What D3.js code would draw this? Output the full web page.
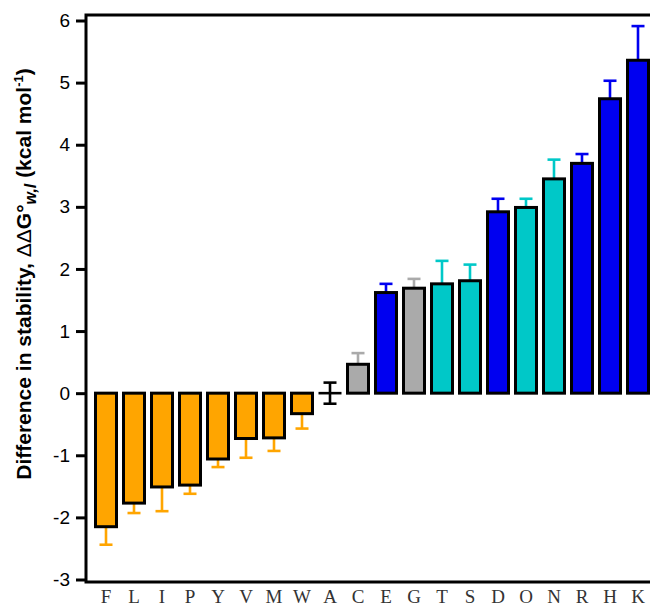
<!DOCTYPE html>
<html lang="en">
<head>
<meta charset="UTF-8">
<title>Difference in stability</title>
<script src="https://cdn.jsdelivr.net/npm/d3@7"></script>
<style>
  body { margin: 0; background: #fff; }
  svg { display: block; }
</style>
</head>
<body>
<div id="chart"></div>
<script>
// residue order, free energy differences and errors (kcal/mol)
const residues = ['F','L','I','P','Y','V','M','W','A','C','E','G','T','S','D','O','N','R','H','K'];
const ddG      = [-2.15,-1.77,-1.51,-1.48,-1.06,-0.73,-0.72,-0.33,0,0.465,1.62,1.69,1.76,1.81,2.92,2.99,3.45,3.70,4.74,5.36];
const errs     = [0.29,0.16,0.39,0.14,0.13,0.31,0.21,0.24,0.17,0.18,0.14,0.15,0.37,0.26,0.21,0.14,0.31,0.15,0.29,0.55];
const groups   = ['hyd','hyd','hyd','hyd','hyd','hyd','hyd','hyd','ref','small','charged','small','polar','polar','charged','polar','polar','charged','charged','charged'];
const yTicks   = [-3,-2,-1,0,1,2,3,4,5,6];

const width = 650, height = 606;
const axisX = 86, frameTop = 15, frameBottom = 582;

const fillColor = d3.scaleOrdinal()
    .domain(['hyd','ref','small','charged','polar'])
    .range(['#FFA500','none','#AAAAAA','#0000F0','#00C8C8']);
const errColor = d3.scaleOrdinal()
    .domain(['hyd','ref','small','charged','polar'])
    .range(['#FFA500','#000000','#AAAAAA','#0000F0','#00C8C8']);

const x = d3.scaleBand()
    .domain(residues)
    .range([92, 652])
    .paddingInner(0.25)
    .paddingOuter(0.125);

const y = d3.scaleLinear()
    .domain([-3, 6])
    .range([579.5, 20.5]);

const data = residues.map((r, i) => ({ res: r, v: ddG[i], e: errs[i], g: groups[i] }));

const svg = d3.select("#chart").append("svg")
    .attr("width", width)
    .attr("height", height);

// error bars (drawn first, bars sit on top)
const eb = svg.append("g").selectAll("g")
    .data(data)
    .join("g")
    .attr("stroke", d => errColor(d.g))
    .attr("stroke-width", 2.6);

eb.append("line")
    .attr("x1", d => x(d.res) + x.bandwidth() / 2)
    .attr("x2", d => x(d.res) + x.bandwidth() / 2)
    .attr("y1", d => d.g === 'ref' ? y(-d.e) : y(d.v))
    .attr("y2", d => d.v < 0 ? y(d.v - d.e) : y(d.v + d.e));

eb.append("line")
    .attr("x1", d => x(d.res) + x.bandwidth() / 2 - 6.5)
    .attr("x2", d => x(d.res) + x.bandwidth() / 2 + 6.5)
    .attr("y1", d => d.v < 0 ? y(d.v - d.e) : y(d.v + d.e))
    .attr("y2", d => d.v < 0 ? y(d.v - d.e) : y(d.v + d.e));

eb.filter(d => d.g === 'ref').append("line")
    .attr("x1", d => x(d.res) + x.bandwidth() / 2 - 6.5)
    .attr("x2", d => x(d.res) + x.bandwidth() / 2 + 6.5)
    .attr("y1", d => y(-d.e))
    .attr("y2", d => y(-d.e));

// bars
svg.append("g").selectAll("rect")
    .data(data.filter(d => d.g !== 'ref'))
    .join("rect")
    .attr("x", d => x(d.res))
    .attr("width", x.bandwidth())
    .attr("y", d => y(Math.max(0, d.v)))
    .attr("height", d => Math.abs(y(d.v) - y(0)))
    .attr("fill", d => fillColor(d.g))
    .attr("stroke", "#000")
    .attr("stroke-width", 3);

// reference residue drawn as a flat line at zero
svg.append("g").selectAll("line")
    .data(data.filter(d => d.g === 'ref'))
    .join("line")
    .attr("x1", d => x(d.res) - 1)
    .attr("x2", d => x(d.res) + x.bandwidth() + 1)
    .attr("y1", d => y(d.v))
    .attr("y2", d => y(d.v))
    .attr("stroke", "#000")
    .attr("stroke-width", 2.6);

// frame
svg.append("path")
    .attr("d", `M${width},${frameTop}H${axisX}V${frameBottom}H${width}`)
    .attr("fill", "none")
    .attr("stroke", "#000")
    .attr("stroke-width", 3);

// y axis
const yAxis = d3.axisLeft(y)
    .tickValues(yTicks)
    .tickSize(10)
    .tickPadding(6)
    .tickFormat(d => String(d));

const gy = svg.append("g")
    .attr("transform", `translate(${axisX},0)`)
    .call(yAxis);
gy.select(".domain").remove();
gy.selectAll(".tick line").attr("stroke-width", 3);
gy.selectAll(".tick text")
    .attr("font-family", "Liberation Sans, Arial, sans-serif")
    .attr("font-size", 19)
    .attr("fill", "#000");

// x labels
svg.append("g").selectAll("text")
    .data(residues)
    .join("text")
    .attr("x", d => x(d) + x.bandwidth() / 2)
    .attr("y", 603)
    .attr("text-anchor", "middle")
    .attr("font-family", "Liberation Serif, Times New Roman, serif")
    .attr("font-size", 19)
    .attr("fill", "#333")
    .text(d => d);

// y label
const lab = svg.append("text")
    .attr("transform", "translate(31,274) rotate(-90)")
    .attr("text-anchor", "middle")
    .attr("font-family", "Liberation Sans, Arial, sans-serif")
    .attr("font-weight", "bold")
    .attr("font-size", 21)
    .attr("fill", "#000");
lab.append("tspan").text("Difference in stability, ");
lab.append("tspan").attr("font-weight", "normal").text("\u0394\u0394");
lab.append("tspan").text("G\u00B0");
lab.append("tspan").attr("font-style", "italic").attr("font-size", 16).attr("dy", 5).text("w,I");
lab.append("tspan").attr("dy", -5).text(" (kcal mol");
lab.append("tspan").attr("font-size", 13).attr("dy", -8).text("-1");
lab.append("tspan").attr("dy", 8).text(")");
</script>
</body>
</html>
